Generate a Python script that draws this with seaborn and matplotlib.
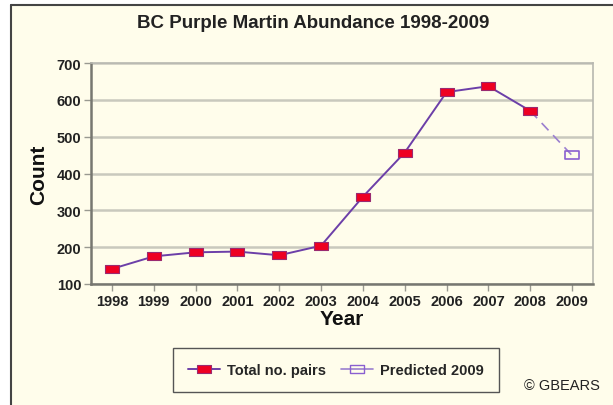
import matplotlib
matplotlib.use("Agg")
import matplotlib.pyplot as plt
import seaborn as sns
import pandas as pd
from matplotlib.lines import Line2D
from matplotlib.patches import Rectangle
from matplotlib.path import Path
from matplotlib.ticker import MultipleLocator

years = [1998, 1999, 2000, 2001, 2002, 2003, 2004, 2005, 2006, 2007, 2008]
pairs = [141, 175, 186, 188, 178, 204, 337, 457, 621, 637, 570]
pred_years = [2008, 2009]
pred_vals = [570, 449]
xticks = list(range(1998, 2010))

sns.set_theme(style="white")
plt.rcParams['font.family'] = ['Liberation Sans', 'DejaVu Sans']

bg = "#fffdeb"
fig = plt.figure(figsize=(6.13, 4.06), dpi=100, facecolor=bg)
x0 = 11/613
y0 = 1 - 6/406
fig.patches.append(Rectangle((0, 0), x0, 1, transform=fig.transFigure,
                             facecolor="white", edgecolor="none", zorder=-10))
fig.patches.append(Rectangle((0, y0), 1, 1 - y0, transform=fig.transFigure,
                             facecolor="white", edgecolor="none", zorder=-10))
fig.lines.append(Line2D([x0, x0], [0, y0], transform=fig.transFigure, color="#444444", linewidth=1.5))
fig.lines.append(Line2D([x0, 1], [y0, y0], transform=fig.transFigure, color="#444444", linewidth=1.5))

ax = fig.add_axes([91/613, 1 - 285/406, (593 - 91)/613, (285 - 64)/406])
ax.set_facecolor(bg)

rect = Path([(-1, -0.6), (1, -0.6), (1, 0.6), (-1, 0.6), (-1, -0.6)],
            [Path.MOVETO, Path.LINETO, Path.LINETO, Path.LINETO, Path.CLOSEPOLY])

df = pd.DataFrame({"Year": years, "Count": pairs})
dfp = pd.DataFrame({"Year": pred_years, "Count": pred_vals})

line_c = "#6c3fa8"
sns.lineplot(data=dfp, x="Year", y="Count", ax=ax, color="#9b7fcf", linewidth=1.2,
             linestyle=(0, (6, 4)), zorder=3)
sns.lineplot(data=df, x="Year", y="Count", ax=ax, color=line_c, linewidth=1.4, zorder=4)
pl, tl = ax.lines[0], ax.lines[1]
pl.set_marker(rect); pl.set_markevery([1]); pl.set_markersize(10.5)
pl.set_markerfacecolor("none"); pl.set_markeredgecolor("#8a5fd0"); pl.set_markeredgewidth(1.2)
tl.set_marker(rect); tl.set_markersize(10.5)
tl.set_markerfacecolor("#ee0022"); tl.set_markeredgecolor("#9a2a70"); tl.set_markeredgewidth(0.8)

ax.set_xlim(1997.5, 2009.5)
ax.set_ylim(100, 700)
ax.set_xticks(xticks)
ax.set_xticklabels([str(y) for y in xticks])
ax.yaxis.set_major_locator(MultipleLocator(100))
ax.yaxis.set_minor_locator(MultipleLocator(50))
ax.grid(axis="y", which="major", color="#c9c9bd", linewidth=1.8)
ax.set_axisbelow(True)

for s in ["top", "right"]:
    ax.spines[s].set_color("#b8b8b0")
    ax.spines[s].set_linewidth(1.2)
for s in ["left", "bottom"]:
    ax.spines[s].set_color("#777770")
    ax.spines[s].set_linewidth(1.8)

ax.tick_params(axis="both", which="major", direction="out", length=5, width=1,
               color="#999990", labelsize=10.5, labelcolor="#222222", pad=2)
ax.tick_params(axis="y", which="minor", direction="out", length=3, width=1, color="#999990")
ax.tick_params(axis="y", which="major", left=True)
ax.tick_params(axis="x", which="major", bottom=True)
for lab in ax.get_xticklabels() + ax.get_yticklabels():
    lab.set_fontweight("bold")

ax.set_xlabel("Year", fontsize=15, fontweight="bold", color="#111111", labelpad=1)
ax.set_ylabel("Count", fontsize=15, fontweight="bold", color="#111111", labelpad=6)

fig.text(0.511, 1 - 23/406, "BC Purple Martin Abundance 1998-2009", ha="center", va="center",
         fontsize=13.5, fontweight="bold", color="#222222")

h1 = Line2D([], [], color=line_c, linewidth=1.4, marker=rect, markersize=10,
            markerfacecolor="#ee0022", markeredgecolor="#9a2a70", markeredgewidth=0.8)
h2 = Line2D([], [], color="#9b7fcf", linewidth=1.2, marker=rect, markersize=10,
            markerfacecolor="none", markeredgecolor="#8a5fd0")
leg = fig.legend([h1, h2], ["Total no. pairs", "Predicted 2009"], loc="center",
                 bbox_to_anchor=(336/613, 1 - 371/406), ncol=2, frameon=True, fancybox=False,
                 edgecolor="#555555", facecolor=bg, framealpha=1,
                 prop={"weight": "bold", "size": 10.5}, handlelength=2.2, columnspacing=1.0,
                 handletextpad=0.5, borderpad=1.0)
leg.get_frame().set_linewidth(1.0)

fig.text(562/613, 1 - 386/406, "© GBEARS", ha="center", va="center", fontsize=10.5,
         color="#222222")

fig.savefig("out.png", dpi=100, facecolor=bg)
